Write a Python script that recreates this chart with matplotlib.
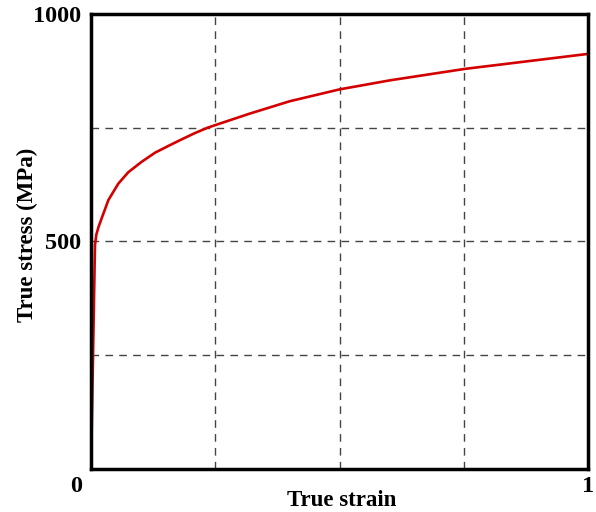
import numpy as np
import matplotlib.pyplot as plt
import matplotlib.transforms as mtransforms

# true stress-strain curve
strain = [0, 0.008, 0.0107, 0.0155, 0.0215, 0.035, 0.055, 0.075, 0.102, 0.129, 0.156,
          0.182, 0.209, 0.235, 0.276, 0.32, 0.40, 0.5, 0.602, 0.752, 1.0]
stress = [0, 492, 515, 533, 551, 591, 627, 652, 675, 695, 710,
          724, 738, 750, 765, 781, 808, 834, 854, 879, 912]

x_ticks = [0, 0.25, 0.5, 0.75, 1]
x_labels = ['0', '', '', '', '1']
y_ticks = [0, 250, 500, 750, 1000]
y_labels = ['', '', '500', '', '1000']

plt.rcParams['font.family'] = ['Liberation Serif', 'DejaVu Serif']
plt.rcParams['font.weight'] = 'bold'

fig = plt.figure(figsize=(5.96, 5.12), dpi=100)
ax = fig.add_axes([0.1527, 0.084, 0.834, 0.889])

ax.plot(strain, stress, color='#d40000', lw=1.9, zorder=3, solid_joinstyle='round')

ax.set_xlim(0, 1)
ax.set_ylim(0, 1000)
ax.set_xticks(x_ticks)
ax.set_xticklabels(x_labels, fontsize=17.5, fontweight='bold')
ax.set_yticks(y_ticks)
ax.set_yticklabels(y_labels, fontsize=17.5, fontweight='bold')
ax.tick_params(axis='x', length=0, pad=5)
ax.tick_params(axis='y', length=0, pad=7)
lbl0 = ax.get_xticklabels()[0]
lbl0.set_transform(lbl0.get_transform() + mtransforms.ScaledTranslation(-15 / 100, 0, fig.dpi_scale_trans))

ax.grid(True, color='#444444', ls=(0, (5.5, 4.5)), lw=1.0)
for s in ax.spines.values():
    s.set_linewidth(2.5)
    s.set_zorder(4)

ax.set_xlabel('True strain', fontsize=16.5, fontweight='bold')
ax.set_ylabel('True stress (MPa)', fontsize=16.5, fontweight='bold')
ax.xaxis.set_label_coords(0.505, -0.047)
ax.yaxis.set_label_coords(-0.107, 0.514)

fig.savefig('out.png', dpi=100)
